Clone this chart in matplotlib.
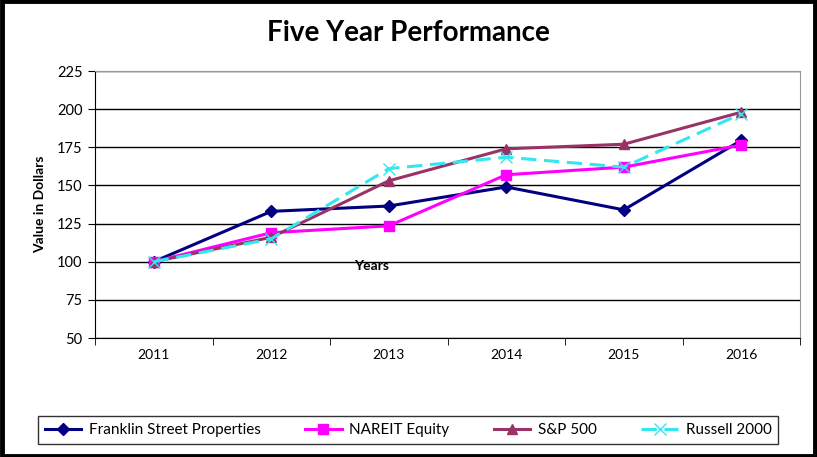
import matplotlib.pyplot as plt
import numpy as np
from matplotlib.patches import Rectangle

years = ['2011', '2012', '2013', '2014', '2015', '2016']
franklin = [100, 133, 136.5, 149, 134, 179.5]
nareit = [100, 119, 123.5, 157, 162, 176.5]
sp500 = [100, 116, 153, 174, 177, 198]
russell = [100, 115, 161, 168.5, 162, 197]
yticks = [50, 75, 100, 125, 150, 175, 200, 225]

plt.rcParams['font.family'] = ['Lato', 'DejaVu Sans']

fig = plt.figure(figsize=(8.17, 4.57), dpi=100)
ax = fig.add_axes([95/817, 1 - 338/457, 705/817, 267/457])

x = np.arange(len(years))
ax.plot(x, franklin, color='#000080', lw=2.2, marker='D', ms=6, label='Franklin Street Properties')
ax.plot(x, nareit, color='#FF00FF', lw=2.2, marker='s', ms=7, label='NAREIT Equity')
ax.plot(x, sp500, color='#993366', lw=2.2, marker='^', ms=7, label='S&P 500')
ax.plot(x, russell, color='#33E6F0', lw=2.2, ls=(0, (5, 2.5)), marker='x', ms=9, mew=1, label='Russell 2000')

ax.set_xlim(-0.5, len(years) - 0.5)
ax.set_ylim(50, 225)
ax.set_yticks(yticks)
ax.set_yticklabels([str(v) for v in yticks], fontsize=10.5)
ax.set_xticks(x)
ax.set_xticklabels(years, fontsize=10)
ax.set_xticks(np.arange(len(years) + 1) - 0.5, minor=True)
ax.tick_params(axis='x', which='major', length=0, pad=8)
ax.tick_params(axis='x', which='minor', length=5, direction='out', color='black')
ax.tick_params(axis='y', length=5, direction='out', color='black', pad=4)
ax.yaxis.grid(True, color='black', lw=1)
ax.set_axisbelow(True)
for s in ['top', 'right']:
    ax.spines[s].set_color('#999999')
for s in ['left', 'bottom']:
    ax.spines[s].set_color('black')

ax.set_ylabel('Value in Dollars', fontsize=10, fontweight='bold', labelpad=8)
ax.text(1.85, 101, 'Years', fontsize=10, fontweight='bold', ha='center', va='top')

fig.text(0.5, 1 - 33/457, 'Five Year Performance', fontsize=20, fontweight='bold', ha='center', va='center')

leg = fig.legend(loc='center', bbox_to_anchor=(408/817, 1 - 430/457), ncol=4, frameon=True,
                 fancybox=False, edgecolor='black', fontsize=11, handlelength=2.4, columnspacing=2.9,
                 handletextpad=0.5, borderpad=0.45, borderaxespad=0)
leg.get_frame().set_linewidth(1)

fig.patches.append(Rectangle((0.002, 0.003), 0.996, 0.994, transform=fig.transFigure,
                             fill=False, edgecolor='black', lw=3.5))

fig.savefig('out.png', dpi=100)
